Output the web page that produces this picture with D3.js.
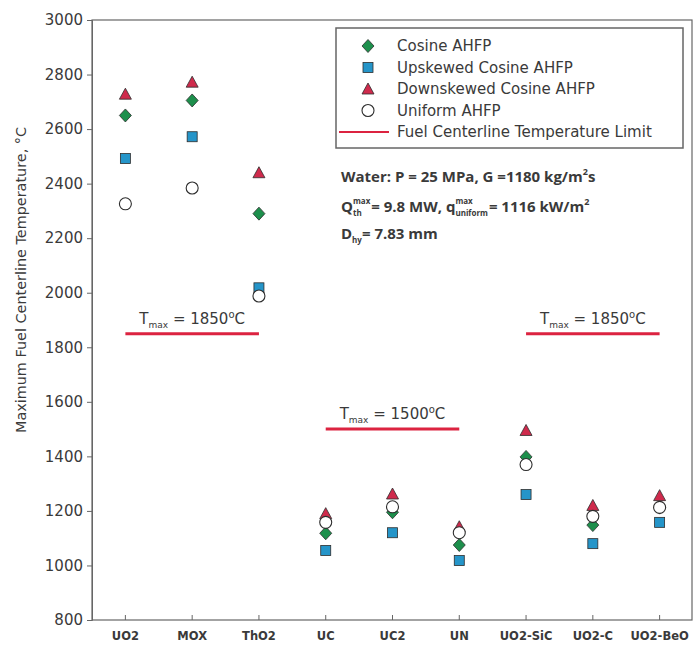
<!DOCTYPE html>
<html>
<head>
<meta charset="utf-8">
<script src="https://cdn.jsdelivr.net/npm/d3@7"></script>
<style>
  body { margin: 0; background: #fff; }
  text { font-family: "DejaVu Sans", sans-serif; fill: #3a3a3a; }
</style>
</head>
<body>
<div class="canvas"></div>
<script>
const fuels = ["UO2", "MOX", "ThO2", "UC", "UC2", "UN", "UO2-SiC", "UO2-C", "UO2-BeO"];
const cosine = [2650, 2705, 2290, 1118, 1195, 1075, 1398, 1148, 1212];
const upskewed = [2492, 2572, 2018, 1055, 1120, 1018, 1260, 1080, 1158];
const downskewed = [2728, 2772, 2440, 1190, 1262, 1142, 1495, 1220, 1256];
const uniform = [2326, 2384, 1988, 1158, 1215, 1120, 1370, 1180, 1213];
const yTicks = [800, 1000, 1200, 1400, 1600, 1800, 2000, 2200, 2400, 2600, 2800, 3000];
// temperature limits: [first fuel, last fuel, value]
const limits = [
  ["UO2", "ThO2", 1850],
  ["UC", "UN", 1500],
  ["UO2-SiC", "UO2-BeO", 1850]
];

const width = 693;
const height = 648;
const margin = { top: 20, right: 0, bottom: 28, left: 92 };

const svg = d3
  .select(".canvas")
  .append("svg")
  .attr("width", width)
  .attr("height", height);

const x = d3.scaleBand().domain(fuels).range([margin.left, width]).padding(0);
const cx = (f) => x(f) + x.bandwidth() / 2;
const y = d3.scaleLinear().domain([800, 3000]).range([height - margin.bottom, margin.top]);

// frame
svg
  .append("rect")
  .attr("x", margin.left)
  .attr("y", margin.top)
  .attr("width", width - 1 - margin.left)
  .attr("height", y(800) - margin.top)
  .attr("fill", "none")
  .attr("stroke", "#666")
  .attr("stroke-width", 1.2);

// axes
const yAxis = d3.axisLeft(y).tickValues(yTicks).tickFormat(d3.format("d")).tickSize(5).tickPadding(4);
const yAxisGroup = svg.append("g").attr("transform", `translate(${margin.left},0)`).call(yAxis);
yAxisGroup.select(".domain").attr("stroke", "#666");
yAxisGroup.selectAll(".tick line").attr("stroke", "#666");
yAxisGroup
  .selectAll("text")
  .style("font-family", "'DejaVu Sans', sans-serif")
  .style("font-size", "15px")
  .attr("fill", "#3a3a3a");

const xAxis = d3.axisBottom(x).tickSize(-5).tickPadding(12);
const xAxisGroup = svg.append("g").attr("transform", `translate(0,${y(800)})`).call(xAxis);
xAxisGroup.select(".domain").remove();
xAxisGroup.selectAll(".tick line").attr("stroke", "#666");
xAxisGroup
  .selectAll("text")
  .style("font-family", "'DejaVu Sans', sans-serif")
  .style("font-size", "11.5px")
  .style("font-weight", "bold")
  .attr("fill", "#333");

svg
  .append("text")
  .attr("transform", "translate(26,280) rotate(-90)")
  .attr("text-anchor", "middle")
  .style("font-size", "14.4px")
  .text("Maximum Fuel Centerline Temperature, °C");

// limit lines
const red = "#dc2340";
limits.forEach(([a, b, v]) => {
  svg
    .append("line")
    .attr("x1", cx(a))
    .attr("x2", cx(b))
    .attr("y1", y(v))
    .attr("y2", y(v))
    .attr("stroke", red)
    .attr("stroke-width", 3);
  const t = svg
    .append("text")
    .attr("x", (cx(a) + cx(b)) / 2)
    .attr("y", y(v) - 10)
    .attr("text-anchor", "middle")
    .style("font-size", "15px");
  t.append("tspan").text("T");
  t.append("tspan").attr("dy", 4).style("font-size", "9px").text("max");
  t.append("tspan").attr("dy", -4).text(` = ${v}`);
  t.append("tspan").attr("dy", -6).style("font-size", "10px").text("o");
  t.append("tspan").attr("dy", 6).text("C");
});

// marker shapes
const green = "#1d8f4c";
const blue = "#2595c9";
const rose = "#cf2a4c";
const edge = "#2d2d2d";

const drawDiamond = (g, px, py) =>
  g.append("path")
    .attr("d", "M0,-6.5L6,0L0,6.5L-6,0Z")
    .attr("transform", `translate(${px},${py})`)
    .attr("fill", green).attr("stroke", edge).attr("stroke-width", 0.8);
const drawSquare = (g, px, py) =>
  g.append("rect")
    .attr("x", px - 5).attr("y", py - 5).attr("width", 10).attr("height", 10)
    .attr("fill", blue).attr("stroke", edge).attr("stroke-width", 0.8);
const drawTriangle = (g, px, py) =>
  g.append("path")
    .attr("d", "M0,-6L6,5L-6,5Z")
    .attr("transform", `translate(${px},${py})`)
    .attr("fill", rose).attr("stroke", edge).attr("stroke-width", 0.8);
const drawCircle = (g, px, py) =>
  g.append("circle")
    .attr("cx", px).attr("cy", py).attr("r", 6)
    .attr("fill", "#fff").attr("stroke", edge).attr("stroke-width", 1.1);

const points = svg.append("g");
fuels.forEach((f, i) => drawDiamond(points, cx(f), y(cosine[i])));
fuels.forEach((f, i) => drawSquare(points, cx(f), y(upskewed[i])));
fuels.forEach((f, i) => drawTriangle(points, cx(f), y(downskewed[i])));
fuels.forEach((f, i) => drawCircle(points, cx(f), y(uniform[i])));

// legend
const legend = svg.append("g");
legend
  .append("rect")
  .attr("x", 336).attr("y", 28).attr("width", 347).attr("height", 120)
  .attr("fill", "#fff").attr("stroke", "#666").attr("stroke-width", 1.5);
const legendItems = [
  ["Cosine AHFP", drawDiamond],
  ["Upskewed Cosine AHFP", drawSquare],
  ["Downskewed Cosine AHFP", drawTriangle],
  ["Uniform AHFP", drawCircle],
  ["Fuel Centerline Temperature Limit", null]
];
legendItems.forEach(([label, draw], i) => {
  const ly = 46 + i * 21.5;
  if (draw) draw(legend, 368, ly);
  else
    legend.append("line")
      .attr("x1", 339).attr("x2", 389).attr("y1", ly).attr("y2", ly)
      .attr("stroke", red).attr("stroke-width", 2);
  legend.append("text")
    .attr("x", 397).attr("y", ly + 5)
    .style("font-size", "15px")
    .text(label);
});

// conditions note, with sub/superscripts placed by measured width
const note = svg.append("g").style("font-weight", "bold");
const richLine = (px, py, parts) => {
  let cur = px;
  parts.forEach((p) => {
    const add = (txt, dy, size) => {
      const t = note.append("text")
        .attr("x", cur).attr("y", py + dy)
        .style("font-size", size + "px")
        .style("font-family", "'Open Sans', sans-serif")
        .text(txt);
      return t.node().getComputedTextLength();
    };
    if (typeof p === "string") cur += add(p, 0, 15);
    else if (p.sup && p.sub) {
      const w1 = add(p.sup, -8, 8);
      const w2 = add(p.sub, 4, 8);
      cur += Math.max(w1, w2) + 1;
    } else if (p.sup) cur += add(p.sup, -7, 9);
    else cur += add(p.sub, 4, 8);
  });
};
richLine(341, 182, ["Water: P = 25 MPa, G =1180 kg/m", { sup: "2" }, "s"]);
richLine(341, 212, ["Q", { sup: "max", sub: "th" }, " = 9.8 MW, q", { sup: "max", sub: "uniform" }, " = 1116 kW/m", { sup: "2" }]);
richLine(341, 239, ["D", { sub: "hy" }, " = 7.83 mm"]);
</script>
</body>
</html>
